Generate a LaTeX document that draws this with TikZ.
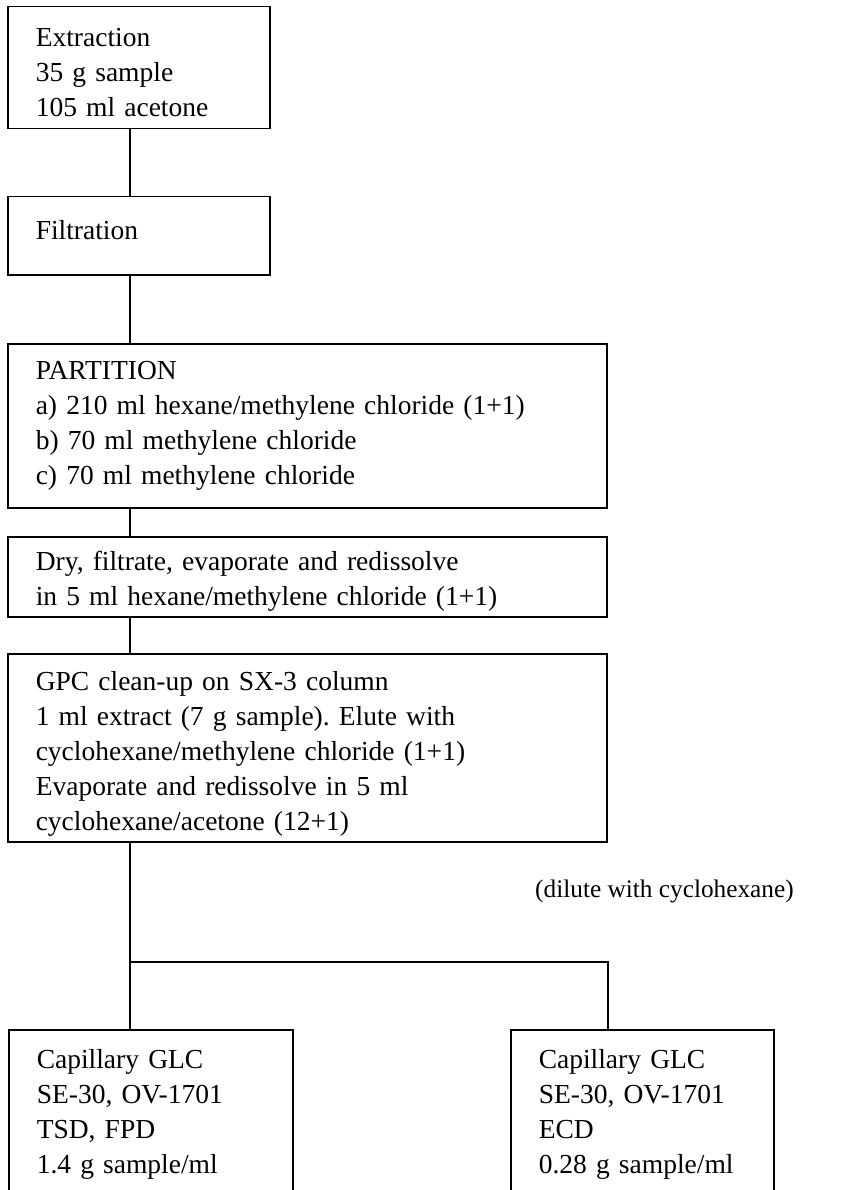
\documentclass[tikz,border=0pt]{standalone}
\usepackage{fontspec}
\setmainfont{Liberation Serif}
\usepackage{tikz}
\usetikzlibrary{positioning}

\newcommand{\stagefont}{\fontsize{27.5}{35}\selectfont\frenchspacing}

\begin{document}
\begin{tikzpicture}[x=1pt,y=-1pt]
\tikzstyle{stage} = [draw,line width=1.5pt,anchor=north west,align=left,inner xsep=28pt,inner ysep=0pt,font=\stagefont];
\tikzstyle{link} = [line width=1.1pt];
\useasboundingbox (0,0) rectangle (846,1190);
\clip (0,0) rectangle (846,1190);

\node [stage,text width=206pt,minimum height=122pt,text height=27pt] (extract) at (7,6) {Extraction\\35 g sample\\105 ml acetone};
\node [stage,text width=206pt,minimum height=78pt,text depth=12pt] (filter) at (7,196) {Filtration};
\node [stage,text width=543pt,minimum height=164pt] (partition) at (7,343) {PARTITION\\a) 210 ml hexane/methylene chloride (1+1)\\b) 70 ml methylene chloride\\c) 70 ml methylene chloride};
\node [stage,text width=543pt,minimum height=80pt,text height=29pt] (dry) at (7,536) {Dry, filtrate, evaporate and redissolve\\in 5 ml hexane/methylene chloride (1+1)};
\node [stage,text width=543pt,minimum height=188pt,text height=31pt] (gpc) at (7,653) {GPC clean-up on SX-3 column\\1 ml extract (7 g sample). Elute with\\cyclohexane/methylene chloride (1+1)\\Evaporate and redissolve in 5 ml\\cyclohexane/acetone (12+1)};
\node [stage,text width=228pt,minimum height=170pt] (tsd) at (8,1029) {Capillary GLC\\SE-30, OV-1701\\TSD, FPD\\1.4 g sample/ml};
\node [stage,text width=207pt,minimum height=170pt] (ecd) at (510,1029) {Capillary GLC\\SE-30, OV-1701\\ECD\\0.28 g sample/ml};
\node [font=\fontsize{25.3}{30}\selectfont,anchor=base west,inner sep=0pt] (dilute) at (535,897) {(dilute with cyclohexane)};

\coordinate (spine) at (130,0);
\coordinate (split) at (130,962);
\coordinate (fork) at (608,962);
\draw [link] (extract.south -| spine) -- (filter.north -| spine);
\draw [link] (filter.south -| spine) -- (partition.north -| spine);
\draw [link] (partition.south -| spine) -- (dry.north -| spine);
\draw [link] (dry.south -| spine) -- (gpc.north -| spine);
\draw [link] (gpc.south -| spine) -- (tsd.north -| spine);
\draw [link] (split) -- (fork) -- (ecd.north -| fork);

\end{tikzpicture}
\end{document}
